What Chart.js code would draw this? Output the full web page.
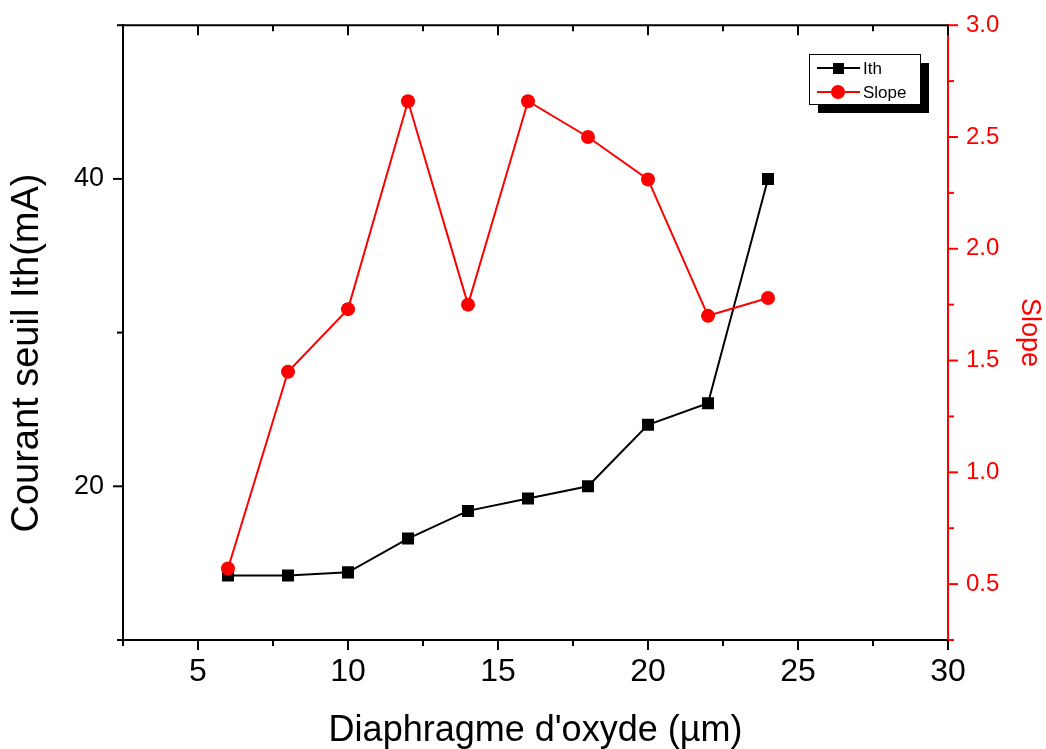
<!DOCTYPE html>
<html>
<head>
<meta charset="utf-8">
<script src="https://cdn.jsdelivr.net/npm/chart.js@4/dist/chart.umd.min.js"></script>
<style>
  body { margin: 0; background: #fff; }
  canvas { display: block; }
</style>
</head>
<body>
<canvas id="ithChart" width="1046" height="749"></canvas>
<script>
// data
const diaphragm = [6, 8, 10, 12, 14, 16, 18, 20, 22, 24];
const ithValues = [14.2, 14.2, 14.4, 16.6, 18.4, 19.2, 20.0, 24.0, 25.4, 40.0];
const slopeValues = [0.57, 1.45, 1.73, 2.66, 1.75, 2.66, 2.50, 2.31, 1.70, 1.78];

const xLabels = [5, 10, 15, 20, 25, 30];
const ithLabels = [20, 40];
const slopeLabels = [0.5, 1.0, 1.5, 2.0, 2.5, 3.0];

const FONT = "'Liberation Sans', Arial, sans-serif";
const RED = "#ff0000";
const LEFT_TITLE = "Courant seuil Ith(mA)";

const isLabel = (list, v) => list.some(l => Math.abs(l - v) < 1e-6);

// ticks (major long, minor short), top frame line, left title and the boxed legend
const axisDecor = {
    id: "axisDecor",
    afterDraw(chart) {
        const { ctx, chartArea: a, scales } = chart;
        ctx.save();
        ctx.lineWidth = 2;

        const seg = (x1, y1, x2, y2) => {
            ctx.beginPath();
            ctx.moveTo(x1, y1);
            ctx.lineTo(x2, y2);
            ctx.stroke();
        };

        ctx.strokeStyle = "#000";
        seg(a.left - 1, a.top, a.right, a.top);

        scales.x.ticks.forEach(t => {
            const px = scales.x.getPixelForValue(t.value);
            const len = isLabel(xLabels, t.value) ? 10 : 6;
            seg(px, a.bottom, px, a.bottom + len);
            seg(px, a.top, px, a.top + len);
        });

        scales.y.ticks.forEach(t => {
            const py = scales.y.getPixelForValue(t.value);
            const len = isLabel(ithLabels, t.value) ? 10 : 6;
            seg(a.left - len, py, a.left, py);
        });

        ctx.strokeStyle = RED;
        scales.y1.ticks.forEach(t => {
            const py = scales.y1.getPixelForValue(t.value);
            const len = isLabel(slopeLabels, t.value) ? 10 : 6;
            seg(a.right, py, a.right + len, py);
        });

        // left axis title, sits a bit below the middle in the original
        ctx.save();
        ctx.translate(28, 353);
        ctx.rotate(-Math.PI / 2);
        ctx.fillStyle = "#000";
        ctx.font = "38px " + FONT;
        ctx.textAlign = "center";
        ctx.textBaseline = "middle";
        ctx.fillText(LEFT_TITLE, 0, 0);
        ctx.restore();

        // legend box with drop shadow
        const bx = 809, by = 54, bw = 111, bh = 50;
        ctx.fillStyle = "#000";
        ctx.fillRect(bx + 9, by + 9, bw, bh);
        ctx.fillStyle = "#fff";
        ctx.fillRect(bx, by, bw, bh);
        ctx.lineWidth = 1;
        ctx.strokeStyle = "#000";
        ctx.strokeRect(bx + 0.5, by + 0.5, bw, bh);

        const rows = [
            { ds: chart.data.datasets[0], y: 68 },
            { ds: chart.data.datasets[1], y: 92 }
        ];
        rows.forEach(r => {
            ctx.strokeStyle = r.ds.borderColor;
            ctx.lineWidth = 2;
            seg(817, r.y, 860, r.y);
            ctx.fillStyle = r.ds.pointBackgroundColor;
            if (r.ds.pointStyle === "rect") {
                ctx.fillRect(833, r.y - 5, 11, 11);
            } else {
                ctx.beginPath();
                ctx.arc(838, r.y, 7, 0, Math.PI * 2);
                ctx.fill();
            }
            ctx.fillStyle = "#000";
            ctx.font = "17px " + FONT;
            ctx.textBaseline = "middle";
            ctx.textAlign = "left";
            ctx.fillText(r.ds.label, 863, r.y + 1);
        });

        ctx.restore();
    }
};

const ctx = document.getElementById("ithChart").getContext("2d");

new Chart(ctx, {
    type: "line",
    data: {
        datasets: [
            {
                label: "Ith",
                data: diaphragm.map((x, i) => ({ x: x, y: ithValues[i] })),
                yAxisID: "y",
                borderColor: "#000",
                backgroundColor: "#000",
                pointBackgroundColor: "#000",
                pointBorderWidth: 0,
                pointStyle: "rect",
                pointRadius: 8.5,
                borderWidth: 2,
                order: 1
            },
            {
                label: "Slope",
                data: diaphragm.map((x, i) => ({ x: x, y: slopeValues[i] })),
                yAxisID: "y1",
                borderColor: RED,
                backgroundColor: RED,
                pointBackgroundColor: RED,
                pointBorderWidth: 0,
                pointStyle: "circle",
                pointRadius: 7,
                borderWidth: 2,
                order: 0
            }
        ]
    },
    options: {
        responsive: false,
        animation: false,
        layout: { padding: { top: 22, left: 0, right: 0, bottom: 0 } },
        plugins: {
            legend: { display: false },
            tooltip: { enabled: false }
        },
        scales: {
            x: {
                type: "linear",
                min: 2.5,
                max: 30,
                border: { color: "#000", width: 2 },
                grid: { drawOnChartArea: false, drawTicks: true, tickLength: 10, tickColor: "rgba(0,0,0,0)" },
                ticks: {
                    stepSize: 2.5,
                    autoSkip: false,
                    maxRotation: 0,
                    padding: 3,
                    color: "#000",
                    font: { family: FONT, size: 32 },
                    callback: v => isLabel(xLabels, v) ? String(v) : ""
                },
                title: {
                    display: true,
                    text: "Diaphragme d'oxyde (µm)",
                    color: "#000",
                    font: { family: FONT, size: 36 },
                    padding: { top: 0, bottom: -4 }
                },
                afterFit: s => { s.height = 109; }
            },
            y: {
                type: "linear",
                position: "left",
                min: 10,
                max: 50,
                border: { color: "#000", width: 2 },
                grid: { drawOnChartArea: false, drawTicks: true, tickLength: 10, tickColor: "rgba(0,0,0,0)" },
                ticks: {
                    stepSize: 10,
                    autoSkip: false,
                    padding: 9,
                    color: "#000",
                    font: { family: FONT, size: 27 },
                    callback: v => isLabel(ithLabels, v) ? String(v) : ""
                },
                title: { display: false },
                afterFit: s => { s.width = 123; }
            },
            y1: {
                type: "linear",
                position: "right",
                min: 0.25,
                max: 3.0,
                border: { color: RED, width: 2 },
                grid: { drawOnChartArea: false, drawTicks: true, tickLength: 10, tickColor: "rgba(0,0,0,0)" },
                ticks: {
                    stepSize: 0.25,
                    autoSkip: false,
                    padding: 8,
                    color: RED,
                    font: { family: FONT, size: 24 },
                    callback: v => isLabel(slopeLabels, v) ? v.toFixed(1) : ""
                },
                title: {
                    display: true,
                    text: "Slope",
                    color: RED,
                    font: { family: FONT, size: 27 },
                    padding: { top: 0, bottom: 0 }
                },
                afterFit: s => { s.width = 98; }
            }
        }
    },
    plugins: [axisDecor]
});
</script>
</body>
</html>
